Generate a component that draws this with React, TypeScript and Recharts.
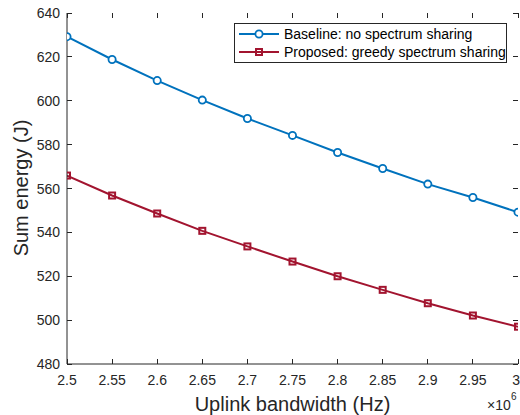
import { LineChart, Line, XAxis, YAxis, Legend, CartesianGrid } from 'recharts';

// uplink bandwidth, in units of 10^6 Hz
const bandwidth = [2.5, 2.55, 2.6, 2.65, 2.7, 2.75, 2.8, 2.85, 2.9, 2.95, 3];
const baseline = [629.2, 618.8, 609.2, 600.3, 591.9, 584.2, 576.4, 569.1, 562.0, 555.9, 549.2];
const proposed = [565.9, 556.8, 548.6, 540.7, 533.6, 526.7, 520.0, 513.8, 507.7, 502.1, 497.0];
const yTicks = [480, 500, 520, 540, 560, 580, 600, 620, 640];

const seriesNames = ['Baseline: no spectrum sharing', 'Proposed: greedy spectrum sharing'];

const data = bandwidth.map((bw, i) => ({ bw, baseline: baseline[i], proposed: proposed[i] }));

const BLUE = '#0072BD';
const RED = '#A2142F';
const AXIS = '#262626';
const FONT = '"Liberation Sans", Arial, sans-serif';

const W = 520;
const H = 415;
const MARGIN = { top: 13, right: 2, bottom: 0, left: 0 };
const X_AXIS_H = 51;
const Y_AXIS_W = 67;
const PLOT_W = W - MARGIN.right - Y_AXIS_W;
const PLOT_H = H - MARGIN.top - X_AXIS_H;
const TICK = 5;
const X_GAP = 16;
const Y_GAP = 7;

const CircleDot = (props: any) => {
  const { cx, cy } = props;
  if (cx == null || cy == null) return null;
  return <circle cx={cx} cy={cy} r={3.6} fill="#fff" stroke={BLUE} strokeWidth={1.8} />;
};

const SquareDot = (props: any) => {
  const { cx, cy } = props;
  if (cx == null || cy == null) return null;
  return <rect x={cx - 3} y={cy - 3} width={6} height={6} fill="none" stroke={RED} strokeWidth={2} />;
};

// label outside, tick mark pointing into the plot (MATLAB style)
const BottomTick = (props: any) => {
  const { x, y, payload, index, visibleTicksCount } = props;
  const last = index === visibleTicksCount - 1;
  const base = y - X_GAP;
  return (
    <g>
      <line x1={x} y1={base} x2={x} y2={base - TICK} stroke={AXIS} strokeWidth={1} shapeRendering="crispEdges" />
      <text
        x={last ? W : x}
        y={y + 5}
        textAnchor={last ? 'end' : 'middle'}
        fontSize={14}
        fontFamily={FONT}
        fill={AXIS}
      >
        {payload.value}
      </text>
    </g>
  );
};

const LeftTick = (props: any) => {
  const { x, y, payload } = props;
  const base = x + Y_GAP;
  return (
    <g>
      <line x1={base} y1={y} x2={base + TICK} y2={y} stroke={AXIS} strokeWidth={1} shapeRendering="crispEdges" />
      <text x={x} y={y} textAnchor="end" dominantBaseline="central" fontSize={14} fontFamily={FONT} fill={AXIS}>
        {payload.value}
      </text>
    </g>
  );
};

const XLabel = (props: any) => {
  const { x, y, width } = props.viewBox;
  return (
    <g fontFamily={FONT} fill={AXIS}>
      <text x={x + width / 2} y={y + 47} textAnchor="middle" fontSize={20}>
        Uplink bandwidth (Hz)
      </text>
      <text x={x + width - 31} y={y + 46} fontSize={14}>
        ×10
      </text>
      <text x={x + width - 7} y={y + 36} fontSize={10}>
        6
      </text>
    </g>
  );
};

const YLabel = () => (
  <text
    x={21}
    y={188}
    transform="rotate(-90 21 188)"
    textAnchor="middle"
    dominantBaseline="central"
    fontSize={20}
    fontFamily={FONT}
    fill={AXIS}
  >
    Sum energy (J)
  </text>
);

function LegendBox() {
  const row = (name: string, color: string, square: boolean) => (
    <div key={name} style={{ display: 'flex', alignItems: 'center', height: 18 }}>
      <svg width={47} height={18} style={{ flex: 'none' }}>
        <line x1={4} y1={9} x2={44} y2={9} stroke={color} strokeWidth={2} />
        {square ? (
          <rect x={21} y={6} width={6} height={6} fill="none" stroke={color} strokeWidth={2} />
        ) : (
          <circle cx={24} cy={9} r={3.6} fill="#fff" stroke={color} strokeWidth={1.8} />
        )}
      </svg>
      <span style={{ marginLeft: 2, whiteSpace: 'nowrap' }}>{name}</span>
    </div>
  );
  return (
    <div
      style={{
        width: 273,
        height: 40,
        boxSizing: 'border-box',
        border: `1px solid ${AXIS}`,
        background: '#fff',
        paddingTop: 1,
        fontFamily: FONT,
        fontSize: 14,
        color: '#000',
        lineHeight: '18px',
      }}
    >
      {row(seriesNames[0], BLUE, false)}
      {row(seriesNames[1], RED, true)}
    </div>
  );
}

export default function App() {
  return (
    <div style={{ position: 'absolute', left: 0, top: 0, width: W, height: H, background: '#fff' }}>
      <LineChart width={W} height={H} data={data} margin={MARGIN}>
        {/* top and right inward ticks: grid lines dashed so only their ends show */}
        <CartesianGrid
          yAxisId="left"
          horizontal={false}
          stroke={AXIS}
          shapeRendering="crispEdges"
          strokeDasharray={`${TICK} ${PLOT_H - 2 * TICK} ${TICK}`}
        />
        <CartesianGrid
          yAxisId="left"
          vertical={false}
          stroke={AXIS}
          shapeRendering="crispEdges"
          strokeDasharray={`${TICK} ${PLOT_W - 2 * TICK} ${TICK}`}
        />
        <XAxis
          dataKey="bw"
          type="number"
          domain={[2.5, 3]}
          ticks={bandwidth}
          allowDataOverflow
          interval={0}
          height={X_AXIS_H}
          tickSize={0}
          tickMargin={X_GAP}
          tickLine={false}
          stroke={AXIS}
          tick={<BottomTick />}
          label={<XLabel />}
        />
        <XAxis
          xAxisId="top"
          orientation="top"
          dataKey="bw"
          type="number"
          domain={[2.5, 3]}
          ticks={bandwidth}
          height={0}
          tickLine={false}
          tick={false}
          stroke={AXIS}
        />
        <YAxis
          yAxisId="left"
          domain={[480, 640]}
          ticks={yTicks}
          allowDataOverflow
          interval={0}
          width={Y_AXIS_W}
          tickSize={0}
          tickMargin={Y_GAP}
          tickLine={false}
          stroke={AXIS}
          tick={<LeftTick />}
        />
        <YAxis
          yAxisId="right"
          orientation="right"
          domain={[480, 640]}
          ticks={yTicks}
          width={0}
          tickLine={false}
          tick={false}
          stroke={AXIS}
        />
        <Legend
          layout="vertical"
          align="center"
          verticalAlign="middle"
          content={<LegendBox />}
          wrapperStyle={{ left: 234, top: 23, width: 273, height: 40 }}
        />
        <Line
          yAxisId="left"
          dataKey="baseline"
          name={seriesNames[0]}
          stroke={BLUE}
          strokeWidth={2}
          dot={<CircleDot />}
          activeDot={false}
          isAnimationActive={false}
        />
        <Line
          yAxisId="left"
          dataKey="proposed"
          name={seriesNames[1]}
          stroke={RED}
          strokeWidth={2}
          dot={<SquareDot />}
          activeDot={false}
          isAnimationActive={false}
        />
      </LineChart>
      <svg width={W} height={H} style={{ position: 'absolute', left: 0, top: 0, pointerEvents: 'none' }}>
        <YLabel />
      </svg>
    </div>
  );
}
